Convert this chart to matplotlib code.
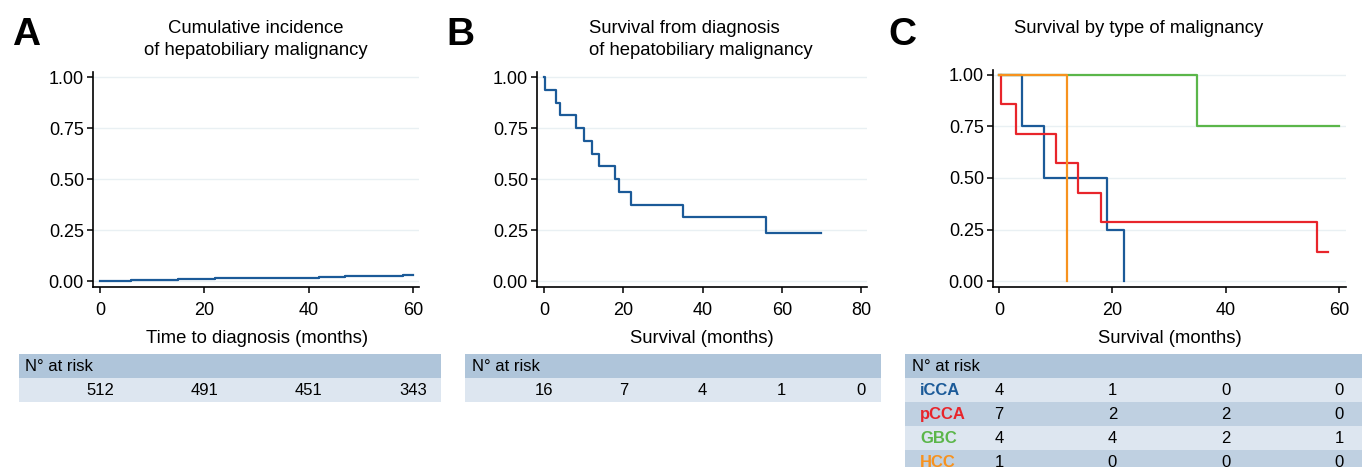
import matplotlib
matplotlib.use('Agg')
import matplotlib.pyplot as plt
import matplotlib.transforms as mtrans
from matplotlib.patches import Rectangle

plt.rcParams['font.family'] = ['Liberation Sans', 'DejaVu Sans']

W, H = 1362, 467

# ---- data ----
# A: cumulative incidence
a_time = [0, 6, 15, 22, 34, 42, 47, 58, 60]
a_inc = [0.0, 0.003, 0.008, 0.014, 0.017, 0.020, 0.025, 0.029, 0.029]
a_risk_t = [0, 20, 40, 60]
a_risk_n = [512, 491, 451, 343]

# B: survival from diagnosis
b_time = [0, 0.3, 3, 4, 8, 10, 12, 14, 18, 19, 22, 35, 56, 70]
b_surv = [1.0, 0.9375, 0.875, 0.8125, 0.75, 0.6875, 0.625, 0.5625, 0.5,
          0.4375, 0.375, 0.3125, 0.2344, 0.2344]
b_risk_t = [0, 20, 40, 60, 80]
b_risk_n = [16, 7, 4, 1, 0]

# C: survival by type
types = ['iCCA', 'pCCA', 'GBC', 'HCC']
c_time = {
    'iCCA': [0, 4, 8, 19, 22],
    'pCCA': [0.3, 0.3, 3, 10, 14, 18, 56, 58],
    'GBC': [0, 35, 60],
    'HCC': [0, 12, 12],
}
c_surv = {
    'iCCA': [1.0, 0.75, 0.5, 0.25, 0.0],
    'pCCA': [1.0, 0.857, 0.714, 0.571, 0.429, 0.286, 0.143, 0.143],
    'GBC': [1.0, 0.75, 0.75],
    'HCC': [1.0, 0.0, 0.0],
}
c_risk_t = [0, 20, 40, 60]
c_risk_n = {
    'iCCA': [4, 1, 0, 0],
    'pCCA': [7, 2, 2, 0],
    'GBC': [4, 4, 2, 1],
    'HCC': [1, 0, 0, 0],
}

BLUE = '#1b5a98'
colors = {'iCCA': BLUE, 'pCCA': '#e8252b', 'GBC': '#5bb64a', 'HCC': '#f7921e'}
HEAD = '#afc5da'
LIGHT = '#dde6f0'
MID = '#bfd0e1'
GRID = '#e9f0f3'
FS = 13.3
FS_TICK = 13.0
FS_TAB = 12.0


def fx(px):
    return px / W


def fy(py):
    return 1 - py / H


def make_axes(fig, left, right, top, bottom, xlim, ylim, xticks):
    ax = fig.add_axes([fx(left), fy(bottom), fx(right) - fx(left), fy(top) - fy(bottom)])
    ax.set_xlim(*xlim)
    ax.set_ylim(*ylim)
    ax.set_xticks(xticks)
    ax.set_yticks([0, 0.25, 0.5, 0.75, 1.0])
    ax.set_yticklabels(['0.00', '0.25', '0.50', '0.75', '1.00'])
    for s in ['top', 'right']:
        ax.spines[s].set_visible(False)
    for s in ['left', 'bottom']:
        ax.spines[s].set_linewidth(1.2)
    ax.tick_params(direction='out', length=4.5, width=1.1, labelsize=FS_TICK, pad=2)
    ax.tick_params(axis='x', pad=6)
    for y in [0, 0.25, 0.5, 0.75, 1.0]:
        ax.axhline(y, color=GRID, lw=1.0, zorder=0)
    return ax


def risk_header(fig, left, right, top, label_x):
    fig.patches.append(Rectangle((fx(left), fy(top + 24)), fx(right) - fx(left), 24 / H,
                                 transform=fig.transFigure, facecolor=HEAD, edgecolor='none'))
    fig.text(fx(label_x), fy(top + 17), 'N° at risk', fontsize=FS_TAB, va='baseline', ha='left')


def risk_row(fig, ax, left, right, top, color, times, counts):
    fig.patches.append(Rectangle((fx(left), fy(top + 24)), fx(right) - fx(left), 24 / H,
                                 transform=fig.transFigure, facecolor=color, edgecolor='none'))
    tr = mtrans.blended_transform_factory(ax.transData, fig.transFigure)
    for t, n in zip(times, counts):
        fig.text(t, fy(top + 17), str(n), transform=tr, fontsize=FS_TAB,
                 ha='center', va='baseline')


fig = plt.figure(figsize=(W / 100, H / 100), dpi=100)

# ---- panel A ----
axA = make_axes(fig, 93, 419, 72, 287, (-1.34, 61.15), (-0.029, 1.025), [0, 20, 40, 60])
axA.step(a_time, a_inc, where='post', color=BLUE, lw=1.6)
fig.text(fx(12), fy(45), 'A', fontsize=28, fontweight='bold', va='baseline')
fig.text(fx(256), fy(33), 'Cumulative incidence', fontsize=FS, ha='center', va='baseline')
fig.text(fx(256), fy(55), 'of hepatobiliary malignancy', fontsize=FS, ha='center', va='baseline')
fig.text(fx(257), fy(343), 'Time to diagnosis (months)', fontsize=FS, ha='center', va='baseline')
risk_header(fig, 19, 441, 354, 25)
risk_row(fig, axA, 19, 441, 378, LIGHT, a_risk_t, a_risk_n)

# ---- panel B ----
axB = make_axes(fig, 537, 867, 72, 287, (-1.77, 81.5), (-0.029, 1.025), [0, 20, 40, 60, 80])
axB.step(b_time, b_surv, where='post', color=BLUE, lw=1.6)
fig.text(fx(446), fy(45), 'B', fontsize=28, fontweight='bold', va='baseline')
fig.text(fx(589), fy(33), 'Survival from diagnosis', fontsize=FS, ha='left', va='baseline')
fig.text(fx(589), fy(55), 'of hepatobiliary malignancy', fontsize=FS, ha='left', va='baseline')
fig.text(fx(702), fy(343), 'Survival (months)', fontsize=FS, ha='center', va='baseline')
risk_header(fig, 465, 881, 354, 472)
risk_row(fig, axB, 465, 881, 378, LIGHT, b_risk_t, b_risk_n)

# ---- panel C ----
axC = make_axes(fig, 993, 1346, 70, 287, (-1.06, 61.2), (-0.029, 1.024), [0, 20, 40, 60])
for k in types:
    axC.step(c_time[k], c_surv[k], where='post', color=colors[k], lw=1.6)
fig.text(fx(888), fy(45), 'C', fontsize=28, fontweight='bold', va='baseline')
fig.text(fx(1139), fy(33), 'Survival by type of malignancy', fontsize=FS, ha='center', va='baseline')
fig.text(fx(1170), fy(343), 'Survival (months)', fontsize=FS, ha='center', va='baseline')
risk_header(fig, 905, 1362, 354, 912)
row_bg = [LIGHT, MID, LIGHT, MID]
for i, k in enumerate(types):
    top = 378 + 24 * i
    risk_row(fig, axC, 905, 1362, top, row_bg[i], c_risk_t, c_risk_n[k])
    fig.text(fx(920), fy(top + 17), k, fontsize=FS_TAB, fontweight='bold',
             color=colors[k], ha='left', va='baseline')

fig.savefig('out.png', dpi=100)
